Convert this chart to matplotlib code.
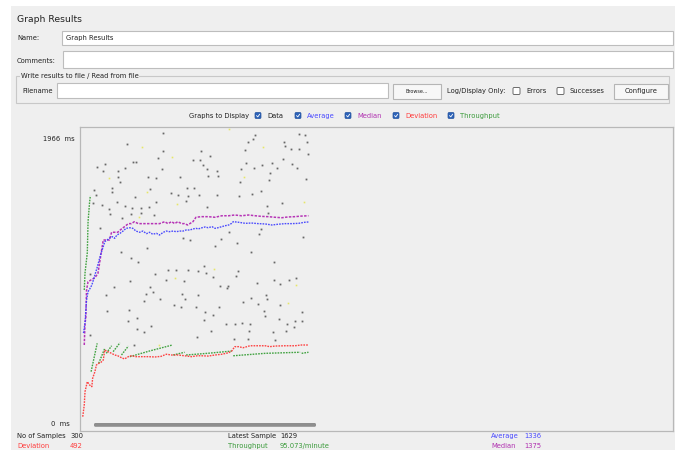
import numpy as np
import matplotlib
matplotlib.use("Agg")
import matplotlib.pyplot as plt
from matplotlib.patches import Rectangle, FancyBboxPatch

# ---------------- data ----------------
data_sample = [106, 59, 106, 100, 146, 30, 20, 67, 71, 57, 47, 28, 105, 48, 87, 98, 129, 50, 39, 16, 40, 89, 138, 147,
               19, 70, 117, 126, 139, 97, 46, 15, 26, 56, 66, 77, 88, 137, 36, 37, 78, 65, 95, 53, 24, 133, 142, 85,
               51, 64, 74, 113, 96, 124, 140, 10,
               228, 285, 293, 225, 218, 266, 267, 296, 214, 275, 286, 157, 298, 169, 264, 155, 250, 216, 159, 237,
               276, 226, 209, 257, 283, 165, 178, 248, 166, 179, 295, 246, 208, 236, 224, 177, 154, 206, 263, 244,
               164, 245, 235, 233, 193, 291, 183, 204, 175, 223, 253, 161, 205, 153, 163,
               63, 111, 134, 42, 90, 84, 132, 32, 93, 102, 135, 82, 121, 130, 33, 62, 72, 61, 11, 73, 91, 81, 151, 69,
               173, 202, 230, 252, 272, 281, 261, 181, 191, 192, 152, 242, 243, 212, 222, 232, 150, 180, 162, 172,
               240, 241, 260, 289, 160, 259, 280, 290, 189, 201, 210, 221, 270, 279, 170, 220, 251, 269, 200, 219, 254]
data_ms = [1925, 1855, 1808, 1762, 1749, 1721, 1701, 1738, 1738, 1698, 1676, 1676, 1688, 1639, 1639, 1628, 1635, 1604,
           1562, 1551, 1540, 1556, 1562, 1566, 1520, 1503, 1531, 1520, 1511, 1474, 1470, 1465, 1452, 1445, 1432, 1434,
           1439, 1480, 1428, 1391, 1401, 1391, 1384, 1368, 1300, 1232, 1221, 1170, 1142, 1100, 1074, 1023, 999, 1021,
           1023, 995,
           1916, 1921, 1912, 1886, 1866, 1870, 1843, 1868, 1817, 1820, 1820, 1808, 1791, 1775, 1754, 1747, 1731, 1731,
           1714, 1716, 1723, 1698, 1692, 1696, 1696, 1690, 1676, 1665, 1641, 1645, 1624, 1615, 1606, 1546, 1527, 1520,
           1518, 1513, 1463, 1447, 1439, 1401, 1294, 1263, 1272, 1243, 1230, 1203, 1181, 1144, 1078, 1047, 1018, 1018,
           1001,
           952, 959, 952, 911, 911, 865, 865, 860, 876, 830, 832, 818, 792, 781, 754, 759, 704, 684, 594, 632, 651, 612,
           583, 528,
           979, 985, 935, 959, 957, 972, 929, 917, 902, 917, 858, 860, 832, 814, 838, 799, 781, 781, 748, 728, 754, 721,
           794, 744, 693, 700, 688, 688, 669, 667, 673, 665, 665, 645, 618, 618, 612, 620, 570, 570, 561]

faint_sample = [79, 118, 35, 86, 125, 75, 194, 238, 213, 292, 174, 122, 101, 282, 271]
faint_ms = [1835, 1767, 1628, 1540, 1457, 1375, 1954, 1835, 1637, 1474, 1028, 972, 526, 922, 805]

avg_sample = [2, 4, 5, 6, 8, 11, 13, 17, 20, 22, 25, 28, 30, 33, 36, 40, 43, 46, 50, 54, 58, 63, 67, 71, 76, 80, 85,
              89, 93, 98, 102, 107, 111, 115, 120, 124, 129, 133, 137, 142, 146, 150, 153, 158, 162, 166, 171, 175,
              179, 184, 188, 193, 197, 199, 206, 215, 223, 232, 241, 250, 258, 267, 276, 285, 293, 298]
avg_ms = [607, 673, 748, 825, 880, 905, 924, 990, 1040, 1078, 1133, 1177, 1210, 1221, 1232, 1243, 1232, 1254, 1265,
          1280, 1298, 1302, 1298, 1280, 1272, 1280, 1263, 1272, 1259, 1265, 1254, 1272, 1280, 1276, 1280, 1276, 1280,
          1280, 1287, 1287, 1294, 1298, 1294, 1302, 1307, 1302, 1309, 1298, 1302, 1309, 1315, 1320, 1331, 1342, 1338,
          1331, 1333, 1329, 1327, 1320, 1325, 1329, 1329, 1331, 1338, 1340]

med_sample = [3, 4, 5, 6, 8, 17, 21, 28, 32, 36, 39, 43, 47, 52, 56, 61, 65, 69, 74, 78, 82, 89, 96, 102, 109, 113,
              118, 122, 126, 131, 135, 139, 146, 150, 157, 166, 175, 184, 193, 201, 210, 219, 228, 236, 245, 254,
              263, 271, 280, 289, 298]
med_ms = [528, 673, 704, 891, 946, 972, 1001, 1221, 1221, 1221, 1272, 1272, 1272, 1294, 1309, 1329, 1329, 1342, 1329,
          1329, 1329, 1329, 1329, 1329, 1342, 1329, 1342, 1329, 1342, 1329, 1329, 1320, 1342, 1371, 1375, 1375, 1371,
          1381, 1381, 1386, 1381, 1386, 1381, 1377, 1375, 1371, 1368, 1373, 1375, 1379, 1381]

dev_sample = [1, 3, 4, 7, 10, 13, 14, 17, 19, 22, 25, 28, 30, 34, 39, 43, 47, 52, 56, 61, 65, 71, 78, 87, 96, 104,
              111, 118, 126, 135, 144, 152, 157, 166, 175, 184, 193, 197, 201, 206, 212, 217, 221, 232, 241, 247, 254,
              267, 280, 289, 298]
dev_ms = [55, 132, 220, 286, 264, 253, 308, 352, 396, 407, 414, 429, 495, 484, 473, 462, 457, 444, 436, 451, 457, 451,
          451, 451, 449, 453, 467, 462, 462, 457, 451, 457, 457, 455, 462, 467, 477, 488, 517, 517, 510, 517, 523, 523,
          523, 517, 521, 523, 523, 528, 528]

# throughput (scaled to the graph), NaN = break between saw-tooth runs
thr_sample = [3, 4, 7, 8, 10, 11, np.nan, 12, 20, np.nan, 22, 30, np.nan, 32, 39, np.nan, 41, 50, np.nan, 52, 61,
              np.nan, 63, 90, 119, np.nan, 120, 135, np.nan, 137, 165, 197, np.nan, 199, 241, 287, np.nan, 289, 298]
thr_ms = [891, 1003, 1137, 1342, 1470, 1513, np.nan, 352, 539, np.nan, 407, 506, np.nan, 473, 523, np.nan, 484, 543,
          np.nan, 462, 521, np.nan, 451, 490, 528, np.nan, 462, 480, np.nan, 462, 473, 488, np.nan, 457, 473, 480,
          np.nan, 473, 480]

stats_left = [("No of Samples", "300", "#222222"), ("Deviation", "492", "#ff3b3b")]
stats_mid = [("Latest Sample", "1629", "#222222"), ("Throughput", "95.073/minute", "#3a9a3a")]
stats_right = [("Average", "1336", "#4a4aff"), ("Median", "1375", "#b030b0")]
graph_options = [("Data", "#222222"), ("Average", "#4a4aff"), ("Median", "#b030b0"),
                 ("Deviation", "#ff3b3b"), ("Throughput", "#3a9a3a")]
y_max_label = "1966  ms"
y_min_label = "0  ms"

# ---------------- figure ----------------
W, H = 675, 450
plt.rcParams['font.family'] = ['DejaVu Sans']
fig = plt.figure(figsize=(W / 100, H / 100), dpi=100)
fig.patch.set_facecolor("white")

bg = fig.add_axes([0, 0, 1, 1])
bg.set_xlim(0, W)
bg.set_ylim(H, 0)
bg.axis("off")

PANEL = "#efefef"
BORDER = "#bdbdbd"
FS = 4.9

bg.add_patch(Rectangle((11, 6), W - 11, H - 6, facecolor=PANEL, edgecolor="none"))


def box(x0, y0, x1, y1, fc="white", ec=BORDER, lw=0.8, z=2):
    bg.add_patch(Rectangle((x0, y0), x1 - x0, y1 - y0, facecolor=fc, edgecolor=ec, lw=lw, zorder=z))


def txt(x, y, s, color="#222222", size=FS, ha="left", **kw):
    bg.text(x, y, s, color=color, fontsize=size, ha=ha, va="center", zorder=5, **kw)


def checkbox(x, y, checked=True):
    if checked:
        bg.add_patch(FancyBboxPatch((x, y), 6, 6, boxstyle="round,pad=0,rounding_size=1.2",
                                    facecolor="#2c62b8", edgecolor="#24529c", lw=0.5, zorder=4))
        bg.plot([x + 1.6, x + 2.8, x + 4.6], [y + 3.2, y + 4.4, y + 1.8], color="white", lw=0.6, zorder=5)
    else:
        bg.add_patch(FancyBboxPatch((x, y), 7, 7, boxstyle="round,pad=0,rounding_size=1.2",
                                    facecolor="white", edgecolor="#555555", lw=0.6, zorder=4))


txt(17, 20, "Graph Results", size=6.7)
txt(17, 38, "Name:")
box(62, 31, 673, 45)
txt(66, 38, "Graph Results")
txt(17, 61, "Comments:")
box(63, 51, 673, 68)

# group box
box(16, 76, 669, 103, fc="none", ec="#c8c8c8")
bg.text(21, 76, "Write results to file / Read from file", fontsize=FS, color="#222222", va="center", ha="left",
        zorder=6, bbox=dict(facecolor=PANEL, edgecolor="none", pad=0.4))
txt(22, 91, "Filename")
box(57, 83, 388, 98)
box(393, 84, 441, 99, fc="#f7f7f7", ec="#b5b5b5")
txt(417, 91.5, "Browse...", size=3.5, ha="center")
txt(447, 91, "Log/Display Only:")
checkbox(513, 87.5, checked=False)
txt(526, 91, "Errors")
checkbox(557, 87.5, checked=False)
txt(570, 91, "Successes")
box(614, 84, 668, 99, fc="#f7f7f7", ec="#b5b5b5")
txt(641, 91.5, "Configure", ha="center")

# graphs to display
txt(189, 116, "Graphs to Display")
opt_x = [255, 295, 345, 393, 448]
for (label, col), xx in zip(graph_options, opt_x):
    checkbox(xx, 112.5)
    txt(xx + 12, 116, label, color=col)

# graph frame labels
txt(75, 139, y_max_label, ha="right")
txt(70, 424, y_min_label, ha="right")

# stats
for row, (a, b, c) in enumerate(stats_left):
    txt(17, 436 + row * 10, a, color=c)
    txt(70, 436 + row * 10, b, color=c)
for row, (a, b, c) in enumerate(stats_mid):
    txt(228, 436 + row * 10, a, color=c)
    txt(280, 436 + row * 10, b, color=c)
for row, (a, b, c) in enumerate(stats_right):
    txt(491, 436 + row * 10, a, color=c)
    txt(524, 436 + row * 10, b, color=c)

# ---------------- graph ----------------
gx0, gx1, gy0, gy1 = 80, 673, 127, 431
ax = fig.add_axes([gx0 / W, 1 - gy1 / H, (gx1 - gx0) / W, (gy1 - gy0) / H])
ax.set_facecolor(PANEL)
ax.set_xlim(-2.6, 777.6)
ax.set_ylim(-39.6, 1966.8)
ax.set_xticks([])
ax.set_yticks([])
for s in ax.spines.values():
    s.set_color("#b8b8b8")
    s.set_linewidth(0.9)

ax.plot(data_sample, data_ms, linestyle="none", marker="s", markersize=1.3, color="#3a3a3a", alpha=0.75,
        markeredgewidth=0)
ax.plot(faint_sample, faint_ms, linestyle="none", marker="s", markersize=1.2, color="#e6e65a", alpha=0.9,
        markeredgewidth=0)

dots = (0, (1.2, 0.8))
ax.plot(thr_sample, thr_ms, color="#2f9a2f", lw=1.0, linestyle=dots, alpha=0.9)
ax.plot(dev_sample, dev_ms, color="#ff3030", lw=1.0, linestyle=dots, alpha=0.9)
ax.plot(med_sample, med_ms, color="#b020b0", lw=1.1, linestyle=(0, (1.6, 0.9)), alpha=0.9)
ax.plot(avg_sample, avg_ms, color="#3a3aff", lw=1.0, linestyle=dots, alpha=0.9)

# horizontal scrollbar inside the graph (drawn in figure pixel space)
ax.add_patch(FancyBboxPatch((94, 423), 222, 3.8, boxstyle="round,pad=0,rounding_size=1.5",
                            facecolor="#8e8e8e", edgecolor="none", zorder=10,
                            transform=bg.transData, clip_on=False))

fig.savefig("out.png", dpi=100, facecolor=fig.get_facecolor())
